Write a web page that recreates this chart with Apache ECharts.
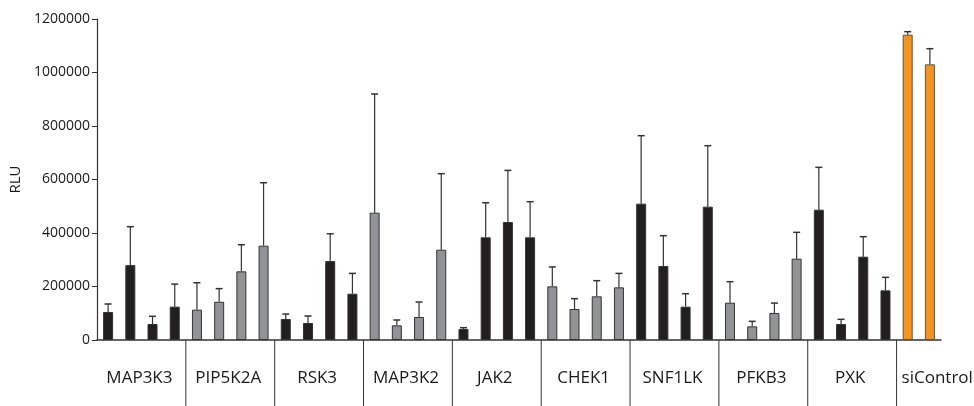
<!DOCTYPE html>
<html>
<head>
<meta charset="utf-8">
<script src="https://cdn.jsdelivr.net/npm/echarts@6/dist/echarts.min.js"></script>
<style>
  html, body { margin: 0; padding: 0; background: #fff; }
  #chart { width: 974px; height: 406px; }
</style>
</head>
<body>
<div id="chart"></div>
<script>
// ---- DATA ----
const groups = ['MAP3K3', 'PIP5K2A', 'RSK3', 'MAP3K2', 'JAK2', 'CHEK1', 'SNF1LK', 'PFKB3', 'PXK', 'siControl'];
const meanValues = [
  [104700, 280000, 59800, 124600],
  [113400, 143000, 256700, 352600],
  [78500, 63600, 295000, 173000],
  [476000, 54800, 86000, 337600],
  [41000, 383800, 441000, 383800],
  [200600, 115900, 163300, 196900],
  [509600, 276600, 124600, 498400],
  [139600, 51100, 101000, 304000],
  [487200, 59800, 311500, 185600],
  [1141400, 1030500]
];
const errorTops = [
  [134600, 423700, 88600, 209000],
  [214000, 192000, 356000, 588000],
  [97000, 89700, 397000, 249000],
  [919600, 74800, 142000, 621800],
  [46000, 513000, 634000, 517000],
  [273000, 154500, 221800, 249000],
  [763800, 390000, 173000, 726400],
  [218000, 69800, 138000, 402500],
  [645500, 77300, 386300, 234300],
  [1152600, 1089000]
];
const yTicks = [0, 200000, 400000, 600000, 800000, 1000000, 1200000];

// ---- STYLE ----
const groupFill = ['#231f20', '#929396', '#231f20', '#929396', '#231f20', '#929396', '#231f20', '#929396', '#231f20', '#f7941d'];
const FONT = 'Open Sans';

// ---- BUILD ----
const cats = [];
const barData = [];
const errData = [];
const groupSpans = [];
let idx = 0;
groups.forEach((g, gi) => {
  const start = idx;
  meanValues[gi].forEach((v, bi) => {
    cats.push(g + '-' + (bi + 1));
    barData.push({
      value: v,
      itemStyle: { color: groupFill[gi], borderColor: gi === 9 ? '#555' : '#333', borderWidth: 1 }
    });
    errData.push([idx, errorTops[gi][bi], v]);
    idx++;
  });
  groupSpans.push([start, 0, idx - 1]);
});

const chart = echarts.init(document.getElementById('chart'), null, { renderer: 'canvas' });
chart.setOption({
  animation: false,
  backgroundColor: '#fff',
  grid: { left: 97, right: 33, top: 19, bottom: 66, containLabel: false },
  xAxis: {
    type: 'category',
    data: cats,
    axisLine: { lineStyle: { color: '#333', width: 1.5 } },
    axisTick: { show: false },
    axisLabel: { show: false },
    splitLine: { show: false }
  },
  yAxis: {
    type: 'value',
    min: 0, max: 1200000, interval: 200000,
    name: 'RLU',
    nameLocation: 'middle',
    nameGap: 74,
    nameTextStyle: { fontFamily: FONT, fontSize: 15, color: '#1a1a1a' },
    axisLine: { show: true, lineStyle: { color: '#333', width: 1.2 } },
    axisTick: { show: true, length: 5, lineStyle: { color: '#333' } },
    axisLabel: {
      fontFamily: FONT, fontSize: 14, color: '#1a1a1a', margin: 7,
      formatter: v => yTicks.includes(v) ? String(v) : ''
    },
    splitLine: { show: false }
  },
  series: [
    {
      type: 'bar',
      data: barData,
      barWidth: 10,
      z: 2
    },
    {
      type: 'custom',
      data: errData,
      z: 3,
      renderItem: (params, api) => {
        const x = api.value(0);
        const top = api.coord([x, api.value(1)]);
        const base = api.coord([x, api.value(2)]);
        const cw = 3.5;
        const st = { stroke: '#333', lineWidth: 1.2 };
        return {
          type: 'group',
          children: [
            { type: 'line', shape: { x1: top[0], y1: base[1], x2: top[0], y2: top[1] }, style: st },
            { type: 'line', shape: { x1: top[0] - cw, y1: top[1], x2: top[0] + cw, y2: top[1] }, style: { stroke: '#333', lineWidth: 1.5 } }
          ]
        };
      }
    },
    {
      type: 'custom',
      data: groupSpans,
      z: 4,
      silent: true,
      clip: false,
      renderItem: (params, api) => {
        const s = api.value(0), e = api.value(2);
        const band = api.size([1, 0])[0];
        const p0 = api.coord([s, 0]);
        const p1 = api.coord([e, 0]);
        const left = p0[0] - band / 2;
        const right = p1[0] + band / 2;
        const y0 = p0[1];
        const children = [];
        if (params.dataIndex > 0) {
          children.push({ type: 'line', shape: { x1: left, y1: y0, x2: left, y2: y0 + 70 }, style: { stroke: '#333', lineWidth: 1 } });
        }
        const narrow = (e - s + 1) < 4;
        children.push({
          type: 'text',
          x: narrow ? left + 5 : (left + right) / 2 - 2,
          y: y0 + 38,
          style: {
            text: groups[params.dataIndex],
            fontFamily: FONT, fontSize: 17, fill: '#1a1a1a',
            align: narrow ? 'left' : 'center', verticalAlign: 'middle'
          }
        });
        return { type: 'group', children };
      }
    }
  ]
});
</script>
</body>
</html>
